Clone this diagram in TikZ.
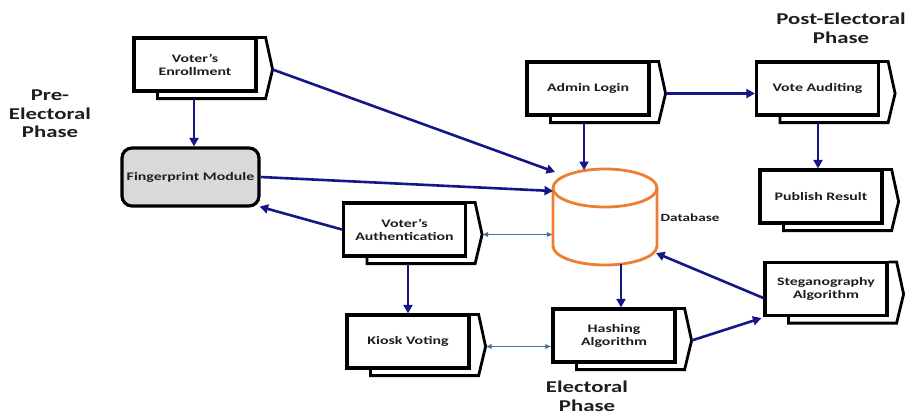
\documentclass[tikz,border=0pt]{standalone}
\usepackage{fontspec}
\newfontfamily\lblfont{Carlito}[FakeStretch=1.38]
\usetikzlibrary{calc,arrows.meta,backgrounds}

\definecolor{navyline}{RGB}{22,22,135}
\definecolor{steel}{RGB}{65,113,156}
\definecolor{dborange}{RGB}{237,125,49}
\definecolor{fpgray}{RGB}{217,217,217}
\definecolor{ink}{RGB}{30,30,30}

\tikzset{
  stagebox/.style={draw=black, line width=3.2pt, fill=white,
    minimum width=122pt, minimum height=53pt, inner sep=0pt, align=center,
    text=ink, font=\lblfont\bfseries\fontsize{11.5}{13}\selectfont},
  backshape/.style={draw=black, line width=2.8pt, fill=white, line join=miter},
  fpbox/.style={draw=black, line width=3.2pt, fill=fpgray, rounded corners=10pt,
    minimum width=137pt, minimum height=58pt, inner sep=0pt, text=ink,
    font=\lblfont\bfseries\fontsize{11.5}{13}\selectfont},
  dbline/.style={draw=dborange, line width=2.8pt},
  dblabel/.style={text=ink, inner sep=0pt, font=\lblfont\bfseries\fontsize{11}{13}\selectfont},
  phase/.style={text=ink, align=center, inner sep=0pt,
    font=\lblfont\bfseries\fontsize{16.5}{18.5}\selectfont},
  flow/.style={draw=navyline, line width=2.6pt, -{Triangle[length=8.5pt,width=9pt]}},
  link/.style={draw=steel, line width=1.7pt,
    {Latex[length=6pt,width=5.5pt]}-{Latex[length=6pt,width=5.5pt]}},
}

% a stage card: front box with a pointed card stacked behind it
\newcommand\stagecard[4]{%
  \node[stagebox] (#1) at (#2,#3) {#4};
  \begin{pgfonlayer}{background}
    \draw[backshape] ($(#1.south west)+(25,0)$) -- ++(0,6)
      -- ($(#1.south east)+(8,6)$) -- ($(#1.east)+(15,5)$)
      -- ($(#1.north east)+(8,1)$) -- ($(#1.north east)+(0,1)$);
  \end{pgfonlayer}
  \coordinate (#1-tip) at ($(#1.east)+(15,5)$);
}

\begin{document}
\begin{tikzpicture}[x=1pt,y=-1pt]
\useasboundingbox (0,0) rectangle (912,416);

% stage cards
\stagecard{enroll}{195}{64.5}{Voter’s\\Enrollment}
\stagecard{auth}{404.5}{229.5}{Voter’s\\Authentication}
\stagecard{kiosk}{408}{341.5}{Kiosk Voting}
\stagecard{hash}{614}{335.5}{Hashing\\Algorithm}
\stagecard{steg}{826}{289}{Steganography\\Algorithm}
\stagecard{admin}{588}{88.5}{Admin Login}
\stagecard{audit}{817.5}{88.5}{Vote Auditing}
\stagecard{publish}{821}{196.5}{Publish Result}

% fingerprint module
\node[fpbox] (fp) at (190.5,177) {Fingerprint Module};

% database cylinder
\draw[dbline] (605,188) ellipse [x radius=52, y radius=19];
\draw[dbline] (553,188) -- (553,246) arc[start angle=180, end angle=0, x radius=52, y radius=19] -- (657,188);
\node[minimum width=104pt, minimum height=96pt, inner sep=0pt] (db) at (605,217) {};
\node[dblabel] (dbname) at (690,218) {Database};

% ports on the database
\coordinate (db-in1) at (555,172);
\coordinate (db-in2) at (553,191);
\coordinate (db-in3) at (656,253);
\coordinate (db-top) at (584,170);
\coordinate (db-out) at (621,264);

% card bases
\coordinate (enroll-base) at ($(enroll.south)+(-1,6)$);
\coordinate (auth-base) at ($(auth.south)+(3.5,6)$);
\coordinate (admin-base) at ($(admin.south)+(-4,6)$);
\coordinate (audit-base) at ($(audit.south)+(0.5,6)$);

% connectors
\draw[flow] (enroll-tip) -- (db-in1);
\draw[flow] (enroll-base) -- (enroll-base |- fp.north);
\draw[flow] (fp.east) -- (db-in2);
\draw[flow] (auth.west) -- ($(fp.south east)+(-1,-1)$);
\draw[link] (auth-tip) -- (auth-tip -| db.west);
\draw[flow] (auth-base) -- (auth-base |- kiosk.north);
\draw[link] (kiosk-tip) -- (kiosk-tip -| hash.west);
\draw[flow] (admin-base) -- (db-top);
\draw[flow] (admin-tip) -- (admin-tip -| audit.west);
\draw[flow] (audit-base) -- (audit-base |- publish.north);
\draw[flow] (db-out) -- (db-out |- hash.north);
\draw[flow] (hash-tip) -- ($(steg.south west)+(-2,1)$);
\draw[flow] ($(steg.west)+(0,9)$) -- (db-in3);

% phase labels
\node[phase] (pre) at (50,114) {Pre-\\Electoral\\Phase};
\node[phase] (post) at (841,28.5) {Post-Electoral\\Phase};
\node[phase] (elect) at (587,396.5) {Electoral\\Phase};
\end{tikzpicture}
\end{document}
